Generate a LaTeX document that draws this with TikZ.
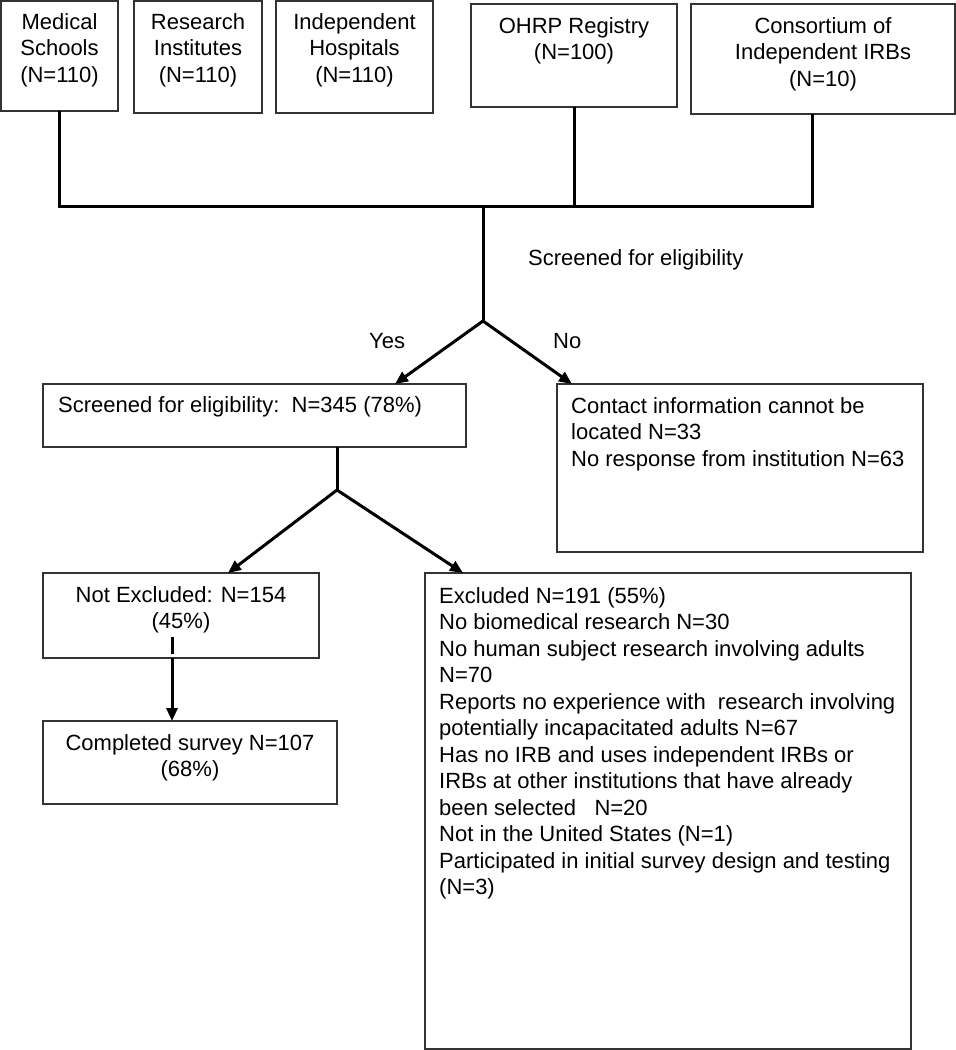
\documentclass[tikz,border=0pt]{standalone}
\usepackage{fontspec}
\setmainfont{Liberation Sans}
\usetikzlibrary{arrows.meta,calc}
\newcommand\fsz{\fontsize{22}{26.5}\selectfont}
\begin{document}
\begin{tikzpicture}[x=1pt,y=-1pt,
  box/.style={draw=black!80,line width=1.6pt,inner sep=0,outer sep=0,anchor=north west},
  ctext/.style={inner sep=0,font=\fsz,align=center,anchor=base},
  ltext/.style={inner sep=0,font=\fsz,align=left,anchor=base west},
  conn/.style={line width=3pt,black},
  arr/.style={conn,-{Triangle[length=13pt,width=11pt]}}]
\useasboundingbox (0,0) rectangle (956,1050);
\fill[white] (0,0) rectangle (956,1050);

% boxes
\node[box,minimum width=117pt,minimum height=110pt] (med) at (1,1) {};
\node[box,minimum width=128pt,minimum height=112pt] (res) at (134,1) {};
\node[box,minimum width=157pt,minimum height=112pt] (hos) at (276,1) {};
\node[box,minimum width=206pt,minimum height=103pt] (ohrp) at (471,4) {};
\node[box,minimum width=264pt,minimum height=110pt] (cons) at (691,4) {};
\node[box,minimum width=423pt,minimum height=63pt] (scr) at (43,384) {};
\node[box,minimum width=366pt,minimum height=168pt] (no) at (557,384) {};
\node[box,minimum width=276pt,minimum height=85pt] (nex) at (43,573) {};
\node[box,minimum width=294pt,minimum height=83pt] (comp) at (43,721) {};
\node[box,minimum width=486pt,minimum height=476pt] (exc) at (425,573) {};

% texts (base anchor = baseline of last line)
\node[ctext] (medt) at ($(med.north)+(0,81)$) {Medical\\Schools\\(N=110)};
\node[ctext] (rest) at ($(res.north)+(0,81)$) {Research\\Institutes\\(N=110)};
\node[ctext] (host) at ($(hos.north)+(0,81)$) {Independent\\Hospitals\\(N=110)};
\node[ctext] (ohrpt) at ($(ohrp.north)+(0,55.5)$) {OHRP Registry\\(N=100)};
\node[ctext] (const) at ($(cons.north)+(0,82)$) {Consortium of\\Independent IRBs\\(N=10)};
\node[ltext] (screenlbl) at (528,265) {Screened for eligibility};
\node[ltext] (yes) at (369,348) {Yes};
\node[ltext] (nolbl) at (553,348) {No};
\node[ltext] (scrt) at ($(scr.north west)+(15,28)$) {Screened for eligibility:\ \ N=345 (78\%)};
\node[ltext] (not) at ($(no.north west)+(14,82)$) {Contact information cannot be\\located N=33\\No response from institution N=63};
\node[ctext] (next) at ($(nex.north)+(0,55.5)$) {Not Excluded: N=154\\(45\%)};
\node[ctext] (compt) at ($(comp.north)+(0,55.5)$) {Completed survey N=107\\(68\%)};
\node[ltext] (exct) at ($(exc.north west)+(14,321.5)$) {Excluded N=191 (55\%)\\
No biomedical research N=30\\
No human subject research involving adults\\
N=70\\
Reports no experience with\ \ research involving\\
potentially incapacitated adults N=67\\
Has no IRB and uses independent IRBs or\\
IRBs at other institutions that have already\\
been selected\ \ \ N=20\\
Not in the United States (N=1)\\
Participated in initial survey design and testing\\
(N=3)};

% connectors
\coordinate (busR) at (812,206);
\coordinate (busM) at (483,206);
\coordinate (split1) at (483,321);
\coordinate (split2) at (337,490);
\coordinate (tick) at (172,637);
\draw[conn] (med.south) |- (busR) -- ($(cons.south)+(-11,0)$);
\draw[conn] ($(res.south)+(-3,0)$) -- ($(res.south)+(-3,0)$ |- busR);
\draw[conn] ($(hos.south)+(-12,0)$) -- ($(hos.south)+(-12,0)$ |- busR);
\draw[conn] (ohrp.south) -- (ohrp.south |- busR);
\draw[conn] (busM) -- (split1);
\draw[arr] (split1) -- ($(scr.north west)+(352,0)$);
\draw[arr] (split1) -- ($(no.north west)+(15,0)$);
\draw[conn] (scr.south -| split2) -- (split2);
\draw[arr] (split2) -- ($(nex.north west)+(185,0)$);
\draw[arr] (split2) -- ($(exc.north west)+(38,0)$);
\draw[conn] (tick) -- ++(0,17);
\draw[arr] ($(nex.south west)+(129,0)$) -- ($(comp.north west)+(129,0)$);
\end{tikzpicture}
\end{document}
